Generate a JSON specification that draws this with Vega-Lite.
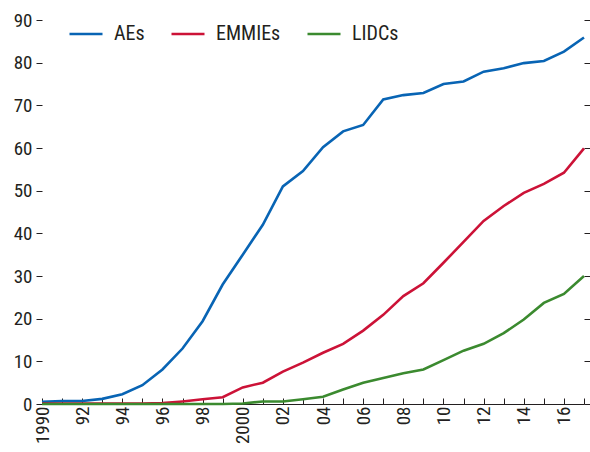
{
  "$schema": "https://vega.github.io/schema/vega-lite/v6.json",
  "width": 542,
  "height": 384,
  "autosize": {"type": "none"},
  "padding": {"left": 42, "top": 20, "right": 6, "bottom": 48},
  "background": "white",
  "config": {
    "view": {"stroke": null},
    "font": "Liberation Sans Narrow, Roboto Condensed, Arial Narrow, sans-serif",
    "axis": {"labelFont": "Liberation Sans Narrow, Roboto Condensed, Arial Narrow, sans-serif", "labelFontSize": 19, "labelColor": "#231f20", "tickColor": "#231f20", "domainColor": "#231f20", "grid": false, "title": null},
    "legend": {"labelFont": "Liberation Sans Narrow, Roboto Condensed, Arial Narrow, sans-serif", "labelFontSize": 20, "labelColor": "#231f20"}
  },
  "data": {"values": [
    {"year": 1990, "AEs": 0.5, "EMMIEs": 0.1, "LIDCs": 0.0},
    {"year": 1991, "AEs": 0.7, "EMMIEs": 0.1, "LIDCs": 0.0},
    {"year": 1992, "AEs": 0.7, "EMMIEs": 0.1, "LIDCs": 0.0},
    {"year": 1993, "AEs": 1.2, "EMMIEs": 0.1, "LIDCs": 0.0},
    {"year": 1994, "AEs": 2.3, "EMMIEs": 0.1, "LIDCs": 0.0},
    {"year": 1995, "AEs": 4.4, "EMMIEs": 0.1, "LIDCs": 0.0},
    {"year": 1996, "AEs": 8.1, "EMMIEs": 0.2, "LIDCs": 0.0},
    {"year": 1997, "AEs": 13.0, "EMMIEs": 0.6, "LIDCs": 0.0},
    {"year": 1998, "AEs": 19.4, "EMMIEs": 1.1, "LIDCs": 0.0},
    {"year": 1999, "AEs": 28.0, "EMMIEs": 1.6, "LIDCs": 0.0},
    {"year": 2000, "AEs": 35.0, "EMMIEs": 3.9, "LIDCs": 0.1},
    {"year": 2001, "AEs": 42.0, "EMMIEs": 5.0, "LIDCs": 0.6},
    {"year": 2002, "AEs": 51.0, "EMMIEs": 7.6, "LIDCs": 0.6},
    {"year": 2003, "AEs": 54.6, "EMMIEs": 9.7, "LIDCs": 1.1},
    {"year": 2004, "AEs": 60.2, "EMMIEs": 12.0, "LIDCs": 1.7},
    {"year": 2005, "AEs": 63.9, "EMMIEs": 14.1, "LIDCs": 3.4},
    {"year": 2006, "AEs": 65.4, "EMMIEs": 17.2, "LIDCs": 5.0},
    {"year": 2007, "AEs": 71.4, "EMMIEs": 20.9, "LIDCs": 6.1},
    {"year": 2008, "AEs": 72.4, "EMMIEs": 25.3, "LIDCs": 7.2},
    {"year": 2009, "AEs": 72.9, "EMMIEs": 28.3, "LIDCs": 8.1},
    {"year": 2010, "AEs": 75.0, "EMMIEs": 33.1, "LIDCs": 10.3},
    {"year": 2011, "AEs": 75.6, "EMMIEs": 38.0, "LIDCs": 12.5},
    {"year": 2012, "AEs": 77.9, "EMMIEs": 42.9, "LIDCs": 14.1},
    {"year": 2013, "AEs": 78.7, "EMMIEs": 46.4, "LIDCs": 16.6},
    {"year": 2014, "AEs": 79.9, "EMMIEs": 49.5, "LIDCs": 19.8},
    {"year": 2015, "AEs": 80.4, "EMMIEs": 51.6, "LIDCs": 23.7},
    {"year": 2016, "AEs": 82.6, "EMMIEs": 54.2, "LIDCs": 25.8},
    {"year": 2017, "AEs": 85.9, "EMMIEs": 59.9, "LIDCs": 30.0}
  ]},
  "transform": [{"fold": ["AEs", "EMMIEs", "LIDCs"], "as": ["group", "value"]}],
  "resolve": {"axis": {"y": "independent"}},
  "layer": [
    {
      "mark": {"type": "line", "strokeWidth": 2.6},
      "encoding": {
        "x": {"field": "year", "type": "quantitative", "scale": {"domain": [1990, 2017], "nice": false, "zero": false},
          "axis": {"values": [1990,1991,1992,1993,1994,1995,1996,1997,1998,1999,2000,2001,2002,2003,2004,2005,2006,2007,2008,2009,2010,2011,2012,2013,2014,2015,2016,2017],
            "labelExpr": "datum.value % 2 == 1 || datum.value == 2017 ? '' : (datum.value == 1990 || datum.value == 2000 ? '' + datum.value : slice('' + datum.value, 2))",
            "labelAngle": 270, "labelAlign": "right", "labelBaseline": "middle", "tickSize": -6, "labelPadding": 8, "domain": true, "labelOverlap": false, "labelBound": false, "labelFlush": false}},
        "y": {"field": "value", "type": "quantitative", "scale": {"domain": [0, 90], "nice": false},
          "axis": {"values": [0,10,20,30,40,50,60,70,80,90], "domain": false, "tickSize": 6, "labelPadding": 4, "orient": "left"}},
        "color": {"field": "group", "type": "nominal", "scale": {"domain": ["AEs", "EMMIEs", "LIDCs"], "range": ["#0864b4", "#cc1237", "#3b8a2f"]},
          "legend": {"orient": "none", "legendX": 26, "legendY": -4, "direction": "horizontal", "title": null, "symbolType": "stroke", "symbolSize": 1089, "symbolStrokeWidth": 2.6, "labelOffset": 10, "columnPadding": 21}}
      }
    },
    {
      "mark": {"type": "rule", "opacity": 0},
      "encoding": {
        "y": {"field": "value", "type": "quantitative", "aggregate": "min",
          "axis": {"orient": "right", "values": [0,10,20,30,40,50,60,70,80,90], "labels": false, "domain": false, "tickSize": 6}}
      }
    }
  ]
}
